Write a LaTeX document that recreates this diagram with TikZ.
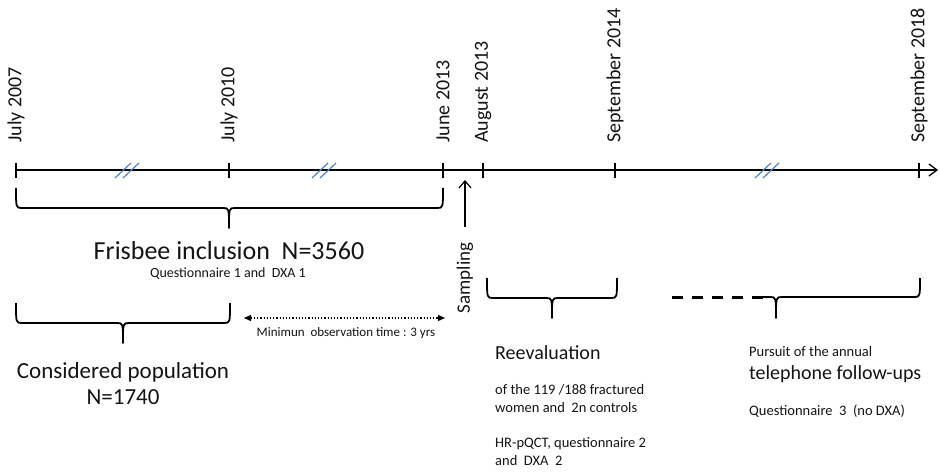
\documentclass[tikz,border=0pt]{standalone}
\usepackage{fontspec}
\setmainfont{Carlito}
\usetikzlibrary{arrows.meta, positioning, calc}
\definecolor{breakblue}{RGB}{79,129,189}
\definecolor{inkgray}{RGB}{20,20,20}

% brace under a span: x left, x right, x of the tip, y of the ends, name of the tip
\newcommand{\spanbrace}[5]{%
    \draw[bracestyle] (#1,#4) .. controls (#1,#4+20) .. (#1+6,#4+20) -- (#3-6,#4+20)
        .. controls (#3,#4+20) .. (#3,#4+40) .. controls (#3,#4+20) .. (#3+6,#4+20)
        -- (#2-6,#4+20) .. controls (#2,#4+20) .. (#2,#4);
    \coordinate (#5) at (#3,#4+40);
}

\begin{document}
\begin{tikzpicture}[x=1pt, y=-1pt,
        bracestyle/.style={draw=black, line width=1.8pt, line join=round},
        axisline/.style={draw=black, line width=1.3pt},
        datelbl/.style={rotate=90, anchor=west, inner sep=0pt, text=inkgray, font=\fontsize{20}{24}\selectfont},
        bigtxt/.style={inner sep=0pt, text=inkgray, font=\fontsize{20}{24}\selectfont},
        smalltxt/.style={inner sep=0pt, text=inkgray, align=left, font=\fontsize{14.5}{18}\selectfont},
        breakmark/.style={draw=breakblue, line width=1.2pt}
    ]
        \useasboundingbox (0,0) rectangle (940,473);

        % time axis
        \coordinate (axisstart) at (16,170);
        \coordinate (axisend) at (938,170);
        \draw[axisline, -{Straight Barb[length=8pt, width=12pt]}] (axisstart) -- (axisend);

        % ticks and dates
        \foreach \x/\d/\n in {16/July 2007/d1, 229/July 2010/d2, 443/June 2013/d3,
                              483/August 2013/d4, 615/September 2014/d5, 919/September 2018/d6} {
            \draw[axisline] (\x,163) -- (\x,178);
            \node[datelbl] (\n) at (\x,143) {\d};
        }

        % breaks in the axis
        \foreach \c in {127, 324, 767} {
            \draw[breakmark] (\c-12,178) -- (\c+4,163);
            \draw[breakmark] (\c-4,178) -- (\c+12,163);
        }

        % sampling
        \coordinate (sampfoot) at (465,227);
        \coordinate (samphead) at (465,180);
        \draw[line width=1.2pt, -{Straight Barb[length=7pt, width=12pt]}] (sampfoot) -- (samphead);
        \node[datelbl, anchor=center, font=\fontsize{19}{23}\selectfont] (sampling) at (465,278) {Sampling};

        % inclusion
        \spanbrace{16}{443}{229}{188}{inctip}
        \node[inner sep=0pt, text=inkgray, font=\fontsize{26}{30}\selectfont] (inclusion) at (229,251) {Frisbee inclusion~~N=3560};
        \node[smalltxt, font=\fontsize{14}{17}\selectfont] (incquest) at (228,274) {Questionnaire 1 and~~DXA 1};

        % considered population
        \spanbrace{16}{230}{123}{303}{poptip}
        \node[inner sep=0pt, text=inkgray, align=center, font=\fontsize{23}{26}\selectfont] (population) at (123,384) {Considered population\\N=1740};

        % minimum observation time
        \coordinate (obsleft) at (244,318);
        \coordinate (obsright) at (445,318);
        \draw[line width=1.2pt, dotted, {Triangle[length=7pt, width=6pt]}-{Triangle[length=7pt, width=6pt]}] (obsleft) -- (obsright);
        \node[smalltxt, font=\fontsize{13}{16}\selectfont] (obstime) at (346,333) {Minimun~~observation time : 3 yrs};

        % reevaluation
        \spanbrace{487}{617}{552}{278}{reevtip}
        \node[bigtxt, anchor=west] (reeval) at (495,353) {Reevaluation};
        \node[smalltxt, anchor=west] (reevwho) at (495,399) {of the 119 /188 fractured\\women and~~2n controls};
        \node[smalltxt, anchor=west] (reevexam) at (495,452) {HR-pQCT, questionnaire 2\\and~~DXA~~2};

        % telephone follow-ups
        \coordinate (dashstart) at (672,297);
        \coordinate (dashend) at (763,297);
        \draw[line width=3pt, dash pattern=on 11pt off 9pt] (dashstart) -- (dashend);
        \draw[bracestyle] (dashend) -- (770,297) .. controls (776,297) .. (776,318) .. controls (776,297) .. (782,297)
            -- (914,297) .. controls (920,297) .. (920,278);
        \node[smalltxt, anchor=west] (pursuit) at (749,352) {Pursuit of the annual};
        \node[bigtxt, anchor=west] (phone) at (749,374) {telephone follow-ups};
        \node[smalltxt, anchor=west] (phonequest) at (749,411) {Questionnaire~~3~~(no DXA)};
    \end{tikzpicture}
\end{document}
